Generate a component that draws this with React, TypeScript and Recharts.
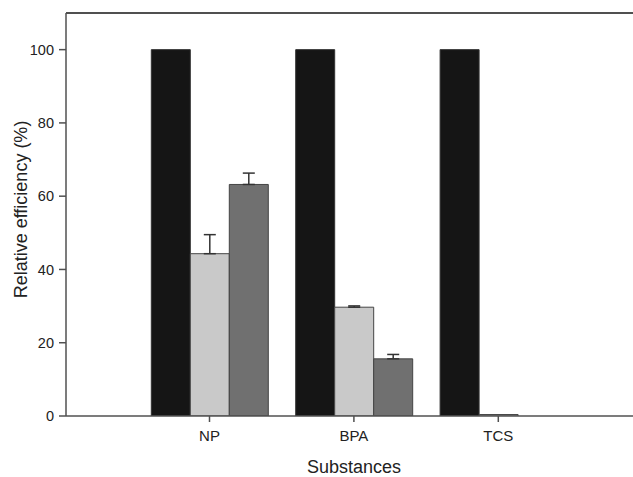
import React from 'react';
import { BarChart, Bar, XAxis, YAxis, ErrorBar, ReferenceLine } from 'recharts';

const categories = ['NP', 'BPA', 'TCS'];
const controlValues = [100, 100, 100];
const lightValues = [44.3, 29.7, 0.4];
const lightErrors: (number | null)[] = [5.2, 0.35, null];
const darkValues = [63.2, 15.6, 0];
const darkErrors: (number | null)[] = [3.1, 1.2, null];
const yTicks = [0, 20, 40, 60, 80, 100];

const data = categories.map((name, i) => ({
  name,
  control: controlValues[i],
  light: lightValues[i],
  lightErr: lightErrors[i] == null ? null : [0, lightErrors[i] as number],
  dark: darkValues[i],
  darkErr: darkErrors[i] == null ? null : [0, darkErrors[i] as number],
}));

const FONT = '"Liberation Sans", Arial, Helvetica, sans-serif';
const AXIS = '#505050';

const YTitle = () => (
  <text
    transform="translate(27,209.5) rotate(-90)"
    textAnchor="middle"
    fontFamily={FONT}
    fontSize={18}
    fill="#222"
  >
    Relative efficiency (%)
  </text>
);

const XTitle = () => (
  <text x={354} y={473} textAnchor="middle" fontFamily={FONT} fontSize={18} fill="#222">
    Substances
  </text>
);

export default function App() {
  return (
    <div style={{ position: 'absolute', left: 0, top: 0, width: 633, height: 477, overflow: 'hidden', background: '#fff' }}>
      <BarChart
        width={680}
        height={477}
        data={data}
        margin={{ top: 13, right: 30, left: 0, bottom: 0 }}
        barGap={0}
        barSize={39}
      >
        <XAxis
          dataKey="name"
          height={61}
          padding={{ left: 71.3, right: 79.5 }}
          axisLine={{ stroke: AXIS, strokeWidth: 1.5 }}
          tickLine={{ stroke: AXIS, strokeWidth: 1.5 }}
          tickSize={6}
          tickMargin={8}
          tick={{ fontFamily: FONT, fontSize: 15, fill: '#222' }}
          label={{ content: () => <XTitle /> }}
        />
        <YAxis
          width={66}
          domain={[0, 110]}
          ticks={yTicks}
          allowDataOverflow
          axisLine={{ stroke: AXIS, strokeWidth: 1.5 }}
          tickLine={{ stroke: AXIS, strokeWidth: 1.5 }}
          tickSize={7}
          tickMargin={5}
          tick={{ fontFamily: FONT, fontSize: 14.5, fill: '#222' }}
          label={{ content: () => <YTitle /> }}
        />
        <ReferenceLine y={110} stroke={AXIS} strokeWidth={2} />
        <Bar dataKey="control" fill="#151515" stroke="#333" strokeWidth={1} isAnimationActive={false} />
        <Bar dataKey="light" fill="#c9c9c9" stroke="#444" strokeWidth={1} isAnimationActive={false}>
          <ErrorBar dataKey="lightErr" width={6} stroke="#333" strokeWidth={1.5} direction="y" />
        </Bar>
        <Bar dataKey="dark" fill="#707070" stroke="#444" strokeWidth={1} isAnimationActive={false}>
          <ErrorBar dataKey="darkErr" width={6} stroke="#333" strokeWidth={1.5} direction="y" />
        </Bar>
      </BarChart>
    </div>
  );
}
